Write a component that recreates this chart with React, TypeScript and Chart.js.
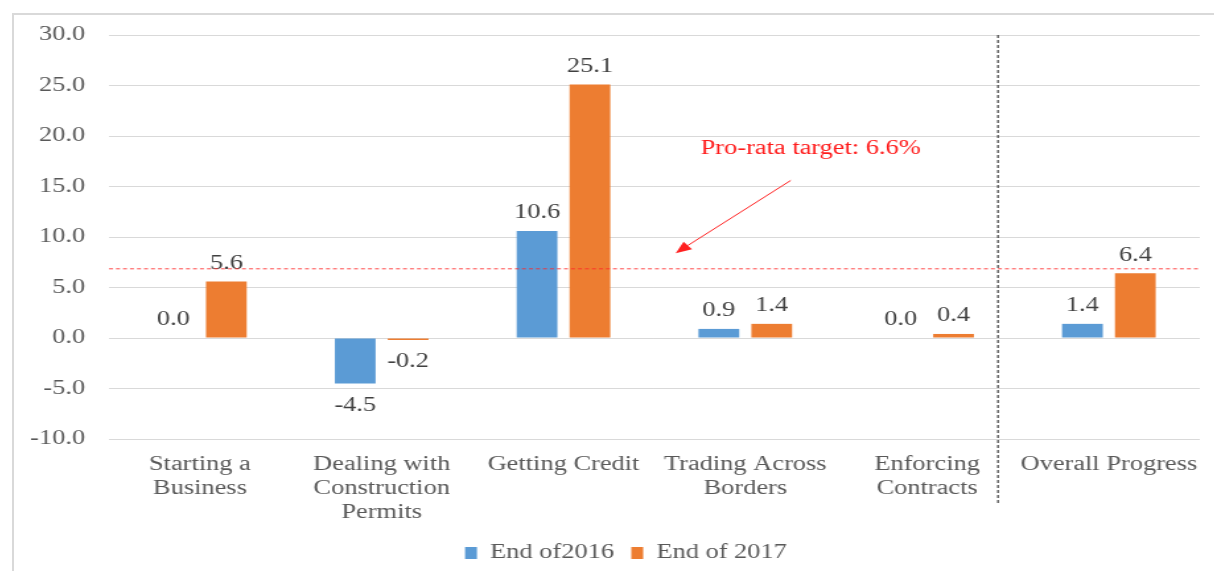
import React, { useEffect, useRef } from "react";
import { Chart, registerables } from "chart.js";

Chart.register(...registerables);

const categories: string[][] = [
  ["Starting a", "Business"],
  ["Dealing with", "Construction", "Permits"],
  ["Getting Credit"],
  ["Trading Across", "Borders"],
  ["Enforcing", "Contracts"],
  ["Overall Progress"],
];
const seriesNames = ["End of2016", "End of 2017"];
const end2016 = [0.0, -4.5, 10.6, 0.9, 0.0, 1.4];
const end2017 = [5.6, -0.2, 25.1, 1.4, 0.4, 6.4];
const yMin = -10;
const yMax = 30;
const yStep = 5;
const targetLineValue = 6.9;
const targetLabel = "Pro-rata target: 6.6%";

// The reference text is horizontally stretched: draw on a narrower canvas and stretch it.
const PAGE_W = 1215;
const PAGE_H = 571;
const CANVAS_W = 920;
const S = PAGE_W / CANVAS_W;
const SHIFT = 2;

const FONT = "'Liberation Serif', 'Times New Roman', serif";
const TEXT = "#595959";
const BLUE = "#5B9BD5";
const ORANGE = "#ED7D31";

const legendShiftPlugin = {
  id: "legendShift",
  afterUpdate(chart: any) {
    const lg = chart.legend;
    if (lg) {
      const d = 24 / S;
      lg.left += d;
      lg.right += d;
      lg.top += 2;
      lg.bottom += 2;
    }
  },
};

const overlayPlugin = {
  id: "overlay",
  afterDatasetsDraw(chart: any) {
    const { ctx, chartArea, scales } = chart;
    const x = scales.x;
    const y = scales.y;
    const w = x.getPixelForValue(1) - x.getPixelForValue(0);
    ctx.save();
    // data labels
    ctx.font = `20px ${FONT}`;
    ctx.fillStyle = "#404040";
    ctx.textAlign = "center";
    ctx.textBaseline = "middle";
    chart.data.datasets.forEach((ds: any, di: number) => {
      const meta = chart.getDatasetMeta(di);
      meta.data.forEach((bar: any, i: number) => {
        const v = ds.data[i];
        const yy = v < 0 ? bar.y + 22 : bar.y - 18;
        ctx.fillText(v.toFixed(1), bar.x, yy);
      });
    });
    // target dashed line
    const ty = y.getPixelForValue(targetLineValue);
    ctx.strokeStyle = "rgba(255,40,40,0.85)";
    ctx.lineWidth = 1;
    ctx.setLineDash([3, 2.3]);
    ctx.beginPath();
    ctx.moveTo(chartArea.left, ty + 0.5);
    ctx.lineTo(chartArea.right, ty + 0.5);
    ctx.stroke();
    // divider
    const dx = x.getPixelForValue(4) + 0.39 * w;
    ctx.strokeStyle = "#404040";
    ctx.lineWidth = 1.2;
    ctx.setLineDash([3, 2]);
    ctx.beginPath();
    ctx.moveTo(dx, chartArea.top);
    ctx.lineTo(dx, chartArea.bottom + 64);
    ctx.stroke();
    ctx.setLineDash([]);
    // arrow
    const x0 = x.getPixelForValue(2) + 1.25 * w;
    const y0 = y.getPixelForValue(15.6);
    const x1 = x.getPixelForValue(2) + 0.617 * w;
    const y1 = y.getPixelForValue(8.4);
    ctx.strokeStyle = "#FF2020";
    ctx.fillStyle = "#FF2020";
    ctx.lineWidth = 1;
    const ang = Math.atan2(y1 - y0, x1 - x0);
    const hl = 12;
    const hw = 5;
    const bx = x1 - hl * Math.cos(ang);
    const by = y1 - hl * Math.sin(ang);
    ctx.beginPath();
    ctx.moveTo(x0, y0);
    ctx.lineTo(bx, by);
    ctx.stroke();
    ctx.beginPath();
    ctx.moveTo(x1, y1);
    ctx.lineTo(bx + hw * Math.sin(ang), by - hw * Math.cos(ang));
    ctx.lineTo(bx - hw * Math.sin(ang), by + hw * Math.cos(ang));
    ctx.closePath();
    ctx.fill();
    // label
    ctx.font = `20px ${FONT}`;
    ctx.fillStyle = "#FF1A1A";
    ctx.textAlign = "center";
    ctx.textBaseline = "middle";
    ctx.fillText(targetLabel, x.getPixelForValue(3) + 0.36 * w, y.getPixelForValue(18.7));
    ctx.restore();
  },
};

export default function App() {
  const ref = useRef<HTMLCanvasElement | null>(null);
  useEffect(() => {
    if (!ref.current) return;
    const chart = new Chart(ref.current, {
      type: "bar",
      data: {
        labels: categories as any,
        datasets: [
          {
            label: seriesNames[0],
            data: end2016,
            backgroundColor: BLUE,
            borderColor: BLUE,
            categoryPercentage: 0.582,
            barPercentage: 0.77,
          },
          {
            label: seriesNames[1],
            data: end2017,
            backgroundColor: ORANGE,
            borderColor: ORANGE,
            categoryPercentage: 0.582,
            barPercentage: 0.77,
          },
        ],
      },
      options: {
        animation: false,
        responsive: false,
        maintainAspectRatio: false,
        layout: { padding: { left: 0, right: CANVAS_W - 1200 / S, top: 35, bottom: 0 } },
        plugins: {
          legend: {
            position: "bottom",
            labels: {
              font: { family: FONT, size: 20 },
              color: TEXT,
              boxWidth: 9,
              boxHeight: 12,
              padding: 13,
            },
          },
          tooltip: { enabled: false },
        },
        scales: {
          x: {
            grid: { display: false, drawTicks: false },
            border: { display: false },
            ticks: {
              font: { family: FONT, size: 20, lineHeight: 1.2 },
              color: TEXT,
              maxRotation: 0,
              autoSkip: false,
              padding: 14,
            },
            afterFit(scale: any) {
              scale.height = 89;
            },
          },
          y: {
            min: yMin,
            max: yMax,
            grid: { color: "#d9d9d9", lineWidth: 1, drawTicks: false },
            border: { display: false },
            ticks: {
              stepSize: yStep,
              font: { family: FONT, size: 20 },
              color: TEXT,
              padding: 18,
              callback: (v: any) => Number(v).toFixed(1),
            },
            afterFit(scale: any) {
              scale.width = 107 / S;
            },
          },
        },
      },
      plugins: [legendShiftPlugin, overlayPlugin],
    } as any);
    return () => chart.destroy();
  }, []);
  return (
    <div
      style={{
        position: "absolute",
        left: 0,
        top: 0,
        width: PAGE_W,
        height: PAGE_H,
        background: "#fff",
        overflow: "hidden",
      }}
    >
      <div
        style={{
          position: "absolute",
          left: 12,
          top: 13,
          width: 1200,
          height: 560,
          borderLeft: "2px solid #d9d9d9",
          borderTop: "2px solid #d9d9d9",
        }}
      />
      <canvas
        ref={ref}
        width={CANVAS_W}
        height={PAGE_H}
        style={{ position: "absolute", left: SHIFT, top: 0, width: PAGE_W, height: PAGE_H }}
      />
    </div>
  );
}
